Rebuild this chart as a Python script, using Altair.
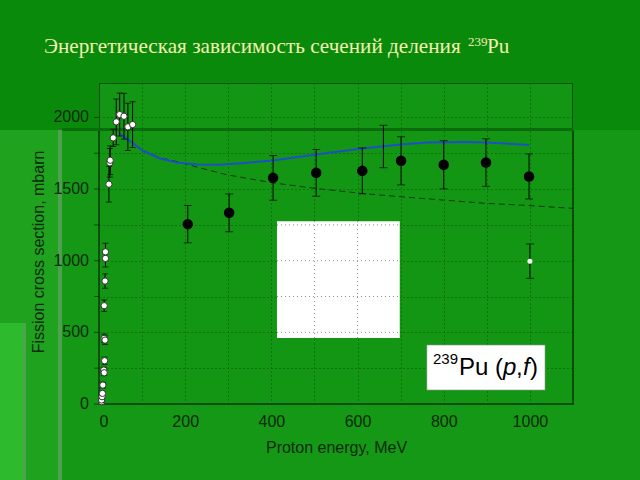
import altair as alt
import pandas as pd

# ---------------- data ----------------
hi_x = [206, 302, 404, 504, 611, 701, 800, 898, 998]
hi_y = [1255, 1334, 1578, 1613, 1627, 1697, 1669, 1685, 1588]
hi_err = [130, 132, 156, 163, 160, 168, 168, 166, 157]

bar_only_x = [660]
bar_only_y = [1797]
bar_only_err = [148]

low_x = [6, 6, 7, 8, 9, 11, 12, 13, 12, 14, 12, 14, 15, 15, 23, 25, 26, 33, 40, 48, 58, 67, 78]
low_y = [16, 28, 51, 74, 132, 237, 218, 302, 458, 446, 686, 858, 1016, 1062,
         1534, 1683, 1701, 1857, 1969, 2020, 2008, 1934, 1950]
low_err = [10, 10, 15, 15, 20, 20, 20, 25, 30, 30, 40, 50, 60, 60,
           125, 100, 100, 60, 160, 150, 160, 165, 160]

white_x = [1000]
white_y = [997]
white_err = [120]

calc_x = [48, 70, 100, 140, 180, 230, 280, 330, 404, 504, 611, 701, 761, 850, 898, 998]
calc_y = [1888, 1840, 1770, 1715, 1685, 1672, 1670, 1680, 1700, 1741, 1783, 1811, 1825, 1828, 1825, 1808]

dash_x = [48, 70, 100, 140, 188, 234, 296, 404, 504, 611, 701, 800, 898, 998, 1100]
dash_y = [1888, 1840, 1772, 1720, 1686, 1648, 1600, 1543, 1504, 1469, 1446, 1423, 1400, 1385, 1365]

title_main = "Энергетическая зависимость сечений деления"
title_sup = "239"
title_tail = "Pu"

x_title = "Proton energy, MeV"
y_title = "Fission cross section, mbarn"

x_grid = list(range(0, 1101, 100))
y_grid = list(range(0, 2241, 250))
y_labels = [0, 500, 1000, 1500, 2000]

# blank white panel and label box (data units)
panel_x = [413, 698]
panel_y = [460, 1276]
box_x = [761, 1035]
box_y = [98, 411]

# ---------------- tables ----------------
def table(xs, ys, errs=None):
    d = pd.DataFrame({"x": xs, "y": ys})
    if errs is not None:
        d["lo"] = [a - b for a, b in zip(ys, errs)]
        d["hi"] = [a + b for a, b in zip(ys, errs)]
    return d

hi_df = table(hi_x, hi_y, hi_err)
bar_df = table(bar_only_x, bar_only_y, bar_only_err)
low_df = table(low_x, low_y, low_err)
white_df = table(white_x, white_y, white_err)
calc_df = table(calc_x, calc_y)
dash_df = table(dash_x, dash_y)
panel_df = pd.DataFrame({"x": [panel_x[0]], "x2": [panel_x[1]], "y": [panel_y[0]], "y2": [panel_y[1]]})
box_df = pd.DataFrame({"x": [box_x[0]], "x2": [box_x[1]], "y": [box_y[0]], "y2": [box_y[1]]})
ylab_df = pd.DataFrame({"y": y_labels, "t": [str(v) for v in y_labels]})
ytick_df = pd.DataFrame({"y": y_grid})
# grid lines re-drawn on top of the white panel
pgx = pd.DataFrame({"x": [g for g in x_grid if panel_x[0] < g < panel_x[1]]})
pgx["y"] = panel_y[0]; pgx["y2"] = panel_y[1]
pgy = pd.DataFrame({"y": [g for g in y_grid if panel_y[0] < g < panel_y[1]]})
pgy["x"] = panel_x[0]; pgy["x2"] = panel_x[1]
one = pd.DataFrame({"a": [0]})

AX = "#0a2a0a"
GRID = "#0a3f0a"
FONT = "Liberation Sans"

X = alt.X("x:Q",
          scale=alt.Scale(domain=[0, 1100], nice=False, zero=False),
          axis=alt.Axis(values=x_grid, format="d",
                        labelExpr="datum.value % 200 == 0 && datum.value <= 1000 ? datum.label : ''",
                        ticks=False, domain=False, grid=True, gridDash=[1, 3], gridColor=GRID,
                        gridOpacity=0.8, labelFont=FONT, labelFontSize=16, labelColor=AX,
                        labelPadding=9, title=x_title, titleFont=FONT, titleFontSize=16,
                        titleFontWeight="normal", titleColor=AX, titleX=237, titleY=43,
                        titleBaseline="middle"))
Y = alt.Y("y:Q",
          scale=alt.Scale(domain=[0, 2240], nice=False, zero=False),
          axis=alt.Axis(values=y_grid, labels=False, ticks=False, domain=False, grid=True,
                        gridDash=[1, 3], gridColor=GRID, gridOpacity=0.8, title=None))

# slide-template decoration (pixel space, relative to plot origin)
def deco(x1, x2, y1, y2, color, op=1.0):
    return alt.Chart(one).mark_rect(fill=color, opacity=op).encode(
        x=alt.value(x1), x2=alt.value(x2), y=alt.value(y1), y2=alt.value(y2))

DARK = "#0a8a0a"
decor = (deco(-99, 541, -83, 0, DARK)
         + deco(-99, 0, 0, 47, DARK)
         + deco(474, 541, 0, 47, DARK)
         + deco(-99, -39, 47, 397, "#1fa31f")
         + deco(-99, -76, 240, 397, "#2dbb2d")
         + deco(-76, -73, 240, 397, "#5fa05f", 0.8)
         + deco(-41, -37, 47, 397, "#5fa05f", 0.8)
         + deco(-37, 474, 45, 48, "#0a6c0a"))

ylabels = alt.Chart(ylab_df).mark_text(align="right", baseline="middle", font=FONT, fontSize=16,
                                      color=AX).encode(x=alt.value(-10), y=Y, text="t:N")
yticks = alt.Chart(ytick_df).mark_tick(orient="horizontal", size=5, thickness=1, color=AX).encode(
    x=alt.value(-2.5), y=Y)

panel = alt.Chart(panel_df).mark_rect(fill="white").encode(x=X, x2="x2", y=Y, y2="y2")
panel_gx = alt.Chart(pgx).mark_rule(color="#8a8a8a", strokeDash=[1, 3], strokeWidth=1).encode(x=X, y=Y, y2="y2")
panel_gy = alt.Chart(pgy).mark_rule(color="#8a8a8a", strokeDash=[1, 3], strokeWidth=1).encode(x=X, x2="x2", y=Y)

dash = alt.Chart(dash_df).mark_line(color="#0a3a0a", strokeDash=[6, 4], strokeWidth=1).encode(x=X, y=Y)
calc = alt.Chart(calc_df).mark_line(color="#1f4fc8", strokeWidth=2).encode(x=X, y=Y)

def errbars(df, cap):
    r = alt.Chart(df).mark_rule(color="#050505", strokeWidth=1).encode(x=X, y="lo:Q", y2="hi:Q")
    c1 = alt.Chart(df).mark_tick(color="#050505", orient="horizontal", size=cap, thickness=1).encode(
        x=X, y=alt.Y("lo:Q"))
    c2 = alt.Chart(df).mark_tick(color="#050505", orient="horizontal", size=cap, thickness=1).encode(
        x=X, y=alt.Y("hi:Q"))
    return r + c1 + c2

hi_pts = alt.Chart(hi_df).mark_point(shape="circle", filled=True, color="black", size=110, opacity=1).encode(x=X, y=Y)
low_pts = alt.Chart(low_df).mark_point(shape="circle", filled=True, fill="white", stroke="#333333",
                                       strokeWidth=1, size=40, opacity=1).encode(x=X, y=Y)
white_pts = alt.Chart(white_df).mark_point(shape="circle", filled=True, color="white", size=25, opacity=1).encode(x=X, y=Y)

box = alt.Chart(box_df).mark_rect(fill="white", stroke="#9a9a9a", strokeWidth=0.6).encode(
    x=X, x2="x2", y=Y, y2="y2")

def txt(text, px, py, size, font=FONT, style="normal", color="black", angle=0,
        align="left", baseline="alphabetic"):
    return alt.Chart(one).mark_text(text=text, align=align, baseline=baseline, font=font,
                                    fontSize=size, fontStyle=style, color=color, angle=angle).encode(
        x=alt.value(px), y=alt.value(py))

ytitle = txt(y_title, -60, 169, 16, color=AX, angle=270, align="center", baseline="middle")

label = (txt("239", 334, 281, 15) + txt("Pu (", 360, 292, 24) + txt("p", 404, 292, 24, style="italic")
         + txt(",", 417, 292, 24) + txt("f", 424, 292, 24, style="italic") + txt(")", 431, 292, 24))

TCOL = "#f3efb2"
SERIF = "Liberation Serif"
title = (txt(title_main, -55, -30, 21.2, font=SERIF, color=TCOL)
         + txt(title_sup, 369, -37, 13, font=SERIF, color=TCOL)
         + txt(title_tail, 388, -30, 21.2, font=SERIF, color=TCOL))

chart = alt.layer(
    decor, ylabels, yticks, panel, panel_gx, panel_gy, dash, calc,
    errbars(low_df, 6), errbars(hi_df, 8), errbars(bar_df, 8), errbars(white_df, 8),
    low_pts, hi_pts, white_pts, box, label, ytitle, title
).properties(
    width=474, height=321,
    autosize=alt.AutoSizeParams(type="none"),
    padding={"left": 99, "top": 83, "right": 67, "bottom": 76},
    background="#159815",
).configure_view(
    fill="#139613", stroke="#0a3a0a", strokeWidth=1.5
)

chart.save("out.html", embed_options={"renderer": "svg", "actions": False})
